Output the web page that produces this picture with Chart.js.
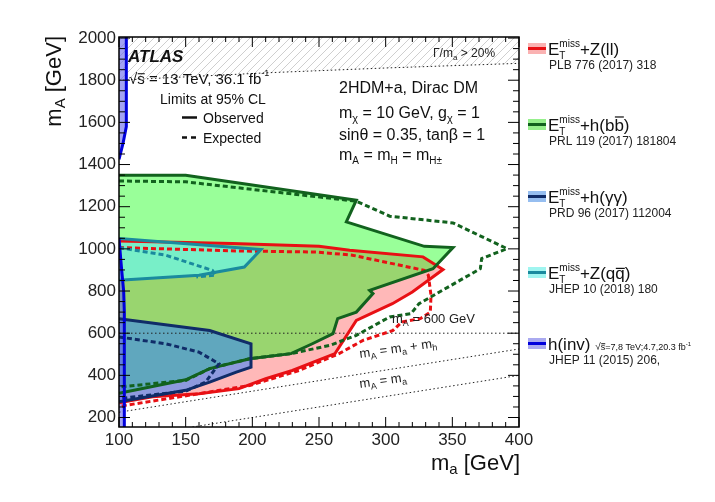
<!DOCTYPE html>
<html>
<head>
<meta charset="utf-8">
<script src="https://cdn.jsdelivr.net/npm/chart.js@4.4.1/dist/chart.umd.min.js"></script>
<style>
  html, body { margin: 0; padding: 0; background: #fff; }
  canvas { display: block; }
</style>
</head>
<body>
<canvas id="chart" width="715" height="502"></canvas>
<script>
// axis ticks
const xTicks = [100, 150, 200, 250, 300, 350, 400];
const yTicks = [200, 400, 600, 800, 1000, 1200, 1400, 1600, 1800, 2000];

// E_T^miss + Z(ll)
const zllObsMa = [100, 185, 250, 273, 328, 343, 320, 305, 278, 262, 230, 210, 190, 160, 125, 100];
const zllObsMA = [1037, 1025, 1012, 993, 962, 902, 795, 740, 661, 503, 423, 384, 337, 313, 298, 270];
const zllExpMa = [100, 190, 248, 275, 329, 332, 334, 333.5, 326, 312, 305.5, 283, 265, 235, 198, 160, 104, 100];
const zllExpMA = [1006, 990, 985, 970, 898, 875, 780, 700, 669, 653, 613, 566, 503, 423, 352, 313, 257, 250];

// E_T^miss + h(bb)
const hbbObsMa = [100, 150, 278, 270.5, 329, 350.5, 335.5, 288, 290.5, 278, 264, 260.5, 245, 229, 198, 168, 150, 100];
const hbbObsMA = [1349, 1349, 1231, 1128, 1012, 1006, 906, 803, 788, 700, 669, 598, 550, 503, 479, 432, 379, 315];
const hbbExpMa = [100, 150, 278, 303, 350.5, 391, 372, 371, 325, 319, 303, 278, 258, 229, 198, 168, 150, 100];
const hbbExpMA = [1322, 1318, 1226, 1155, 1123, 1001, 954, 906, 740, 693, 677, 590, 542, 503, 479, 432, 376, 345];

// E_T^miss + h(yy)
const hyyObsMa = [100, 168, 199, 199, 188, 168, 150, 100];
const hyyObsMA = [669, 613, 550, 439, 415, 368, 329, 275];
const hyyExpMa = [100, 135, 160, 175, 165, 150, 100];
const hyyExpMA = [582, 550, 510, 455, 368, 325, 290];

// E_T^miss + Z(qq)
const zqqObsMa = [100, 206.5, 194, 160, 100];
const zqqObsMA = [1049, 997, 914, 875, 851];
const zqqExpMa = [100, 135, 170, 172.5, 158];
const zqqExpMA = [1006, 970, 898, 875, 867];

// h(inv), Run 1
const hinvLowMa = [100, 104, 104, 103.5, 102, 100];
const hinvLowMA = [155, 155, 700, 800, 900, 1050];
const hinvHighMa = [100, 103, 105.5, 105.5, 100];
const hinvHighMA = [1425, 1500, 1580, 2005, 2005];

// width limit and kinematic lines
const widthMa = [100, 210, 300, 400];
const widthMA = [1800, 1835, 1858, 1880];
const mA600Ma = [100, 400];
const mA600MA = [600, 600];
const kinMa = [100, 400];
const kinMA = [225, 525];
const eqMa = [155, 400];
const eqMA = [155, 400];

const FONT = "'Liberation Sans', Arial, Helvetica, sans-serif";

function pts(xs, ys) {
  return xs.map((x, i) => ({ x: x, y: ys[i] }));
}
function area(xs, ys, color) {
  return { data: pts(xs, ys), showLine: true, fill: 'shape', backgroundColor: color,
           borderColor: 'rgba(0,0,0,0)', borderWidth: 0, pointRadius: 0 };
}
function curve(xs, ys, color, width, dash) {
  return { data: pts(xs, ys), showLine: true, fill: false, borderColor: color,
           borderWidth: width, borderDash: dash || [], pointRadius: 0 };
}

const canvas = document.getElementById('chart');
const ctx = canvas.getContext('2d');

// diagonal hatch for the width region
const hatchCanvas = document.createElement('canvas');
hatchCanvas.width = 8; hatchCanvas.height = 8;
const hc = hatchCanvas.getContext('2d');
hc.strokeStyle = '#cfcfcf';
hc.lineWidth = 1;
hc.beginPath();
hc.moveTo(0, 8); hc.lineTo(8, 0);
hc.moveTo(-2, 2); hc.lineTo(2, -2);
hc.moveTo(6, 10); hc.lineTo(10, 6);
hc.stroke();
const hatch = ctx.createPattern(hatchCanvas, 'repeat');

const RED = 'rgb(232,16,20)';
const GREEN = 'rgb(18,98,30)';
const NAVY = 'rgb(16,44,104)';
const TEAL = 'rgb(26,138,158)';
const BLUE = 'rgb(0,0,220)';
const DASH = [5, 3];

const layers = [
  { data: pts(widthMa, widthMA), showLine: true, fill: 'end', backgroundColor: hatch,
    borderColor: '#222', borderWidth: 1, borderDash: [1.5, 2.5], pointRadius: 0 },
  area(zllObsMa, zllObsMA, 'rgba(255,0,0,0.28)'),
  area(hbbObsMa, hbbObsMA, 'rgba(0,255,0,0.4)'),
  area(hyyObsMa, hyyObsMA, 'rgba(50,130,255,0.55)'),
  area(zqqObsMa, zqqObsMA, 'rgba(100,255,255,0.62)'),
  area(hinvLowMa, hinvLowMA, 'rgba(100,100,235,0.6)'),
  area(hinvHighMa, hinvHighMA, 'rgba(100,100,235,0.6)'),
  curve(mA600Ma, mA600MA, '#222', 1, [1.5, 2.5]),
  curve(kinMa, kinMA, '#222', 1, [1.5, 2.5]),
  curve(eqMa, eqMA, '#222', 1, [1.5, 2.5]),
  curve(zllExpMa, zllExpMA, RED, 3, DASH),
  curve(zllObsMa, zllObsMA, RED, 3),
  curve(hbbExpMa, hbbExpMA, GREEN, 3, DASH),
  curve(hbbObsMa, hbbObsMA, GREEN, 3),
  curve(hyyExpMa, hyyExpMA, NAVY, 3, DASH),
  curve(hyyObsMa, hyyObsMA, NAVY, 3),
  curve(zqqExpMa, zqqExpMA, TEAL, 3, DASH),
  curve(zqqObsMa, zqqObsMA, TEAL, 3),
  curve(hinvLowMa.slice(1), hinvLowMA.slice(1), BLUE, 3),
  curve(hinvHighMa.slice(0, 4), hinvHighMA.slice(0, 4), BLUE, 3)
];
layers.forEach((d, i) => { d.order = layers.length - i; });

// rich text: parts with size, vertical shift, overbar, stacked sub/superscripts
function fontOf(p) {
  return (p.i ? 'italic ' : '') + (p.b ? 'bold ' : '') + p.s + 'px ' + FONT;
}
function richWidth(c, parts) {
  let w = 0, hold = null;
  for (const p of parts) {
    c.font = fontOf(p);
    const pw = c.measureText(p.t).width;
    if (p.hold) { hold = pw; continue; }
    if (hold !== null) { w += Math.max(hold, pw); hold = null; } else w += pw;
  }
  return w;
}
function rich(c, x, y, parts, color) {
  let cx = x, hold = null;
  c.fillStyle = color || '#111';
  c.textAlign = 'left';
  c.textBaseline = 'alphabetic';
  for (const p of parts) {
    c.font = fontOf(p);
    const pw = c.measureText(p.t).width;
    const py = y + (p.dy || 0);
    c.fillText(p.t, cx, py);
    if (p.bar) c.fillRect(cx + 0.5, py - p.s * p.bar, pw - 0.5, Math.max(1, p.s / 14));
    if (p.hold) { hold = pw; continue; }
    if (hold !== null) { cx += Math.max(hold, pw); hold = null; } else cx += pw;
  }
  return cx;
}

function etmiss(extra) {
  return [{ t: 'E', s: 17 }, { t: 'miss', s: 10, dy: -8, hold: true }, { t: 'T', s: 10, dy: 4 }].concat(extra);
}

const legendRows = [
  { fill: 'rgb(250,178,178)', line: RED, ref: 'PLB 776 (2017) 318',
    text: etmiss([{ t: '+Z(ll)', s: 17 }]) },
  { fill: 'rgb(150,240,140)', line: GREEN, ref: 'PRL 119 (2017) 181804',
    text: etmiss([{ t: '+h(b', s: 17 }, { t: 'b', s: 17, bar: 0.86 }, { t: ')', s: 17 }]) },
  { fill: 'rgb(150,190,240)', line: NAVY, ref: 'PRD 96 (2017) 112004',
    text: etmiss([{ t: '+h(\u03b3\u03b3)', s: 17 }]) },
  { fill: 'rgb(160,245,240)', line: TEAL, ref: 'JHEP 10 (2018) 180',
    text: etmiss([{ t: '+Z(q', s: 17 }, { t: 'q', s: 17, bar: 0.66 }, { t: ')', s: 17 }]) },
  { fill: 'rgb(170,170,240)', line: BLUE, ref: 'JHEP 11 (2015) 206,',
    text: [{ t: 'h(inv) ', s: 17 }, { t: '\u221a', s: 10 }, { t: 's', s: 9, bar: 0.75 },
           { t: '=7,8 TeV;4.7,20.3 fb', s: 9 }, { t: '-1', s: 6, dy: -4 }] }
];
const legendBase = [55, 131, 203, 279, 350];

const decor = {
  id: 'decor',
  afterDraw(chart) {
    const c = chart.ctx;
    const a = chart.chartArea;
    const xs = chart.scales.x, ys = chart.scales.y;
    c.save();

    // frame
    c.strokeStyle = '#000';
    c.lineWidth = 1.5;
    c.setLineDash([]);
    c.strokeRect(a.left, a.top, a.right - a.left, a.bottom - a.top);

    // inward ticks on all sides
    c.lineWidth = 1;
    c.beginPath();
    for (let v = 100; v <= 400; v += 10) {
      const px = xs.getPixelForValue(v);
      const len = v % 50 === 0 ? 10 : 5;
      c.moveTo(px, a.bottom); c.lineTo(px, a.bottom - len);
      c.moveTo(px, a.top); c.lineTo(px, a.top + len);
    }
    for (let v = 200; v <= 2000; v += 50) {
      const py = ys.getPixelForValue(v);
      const len = v % 200 === 0 ? 11 : 6;
      c.moveTo(a.left, py); c.lineTo(a.left + len, py);
      c.moveTo(a.right, py); c.lineTo(a.right - len, py);
    }
    c.stroke();

    // labels inside the plot
    rich(c, 128, 62, [{ t: 'ATLAS', s: 17, b: 1, i: 1 }]);
    rich(c, 129, 84, [{ t: '\u221a', s: 15 }, { t: 's', s: 15, bar: 0.72 },
      { t: ' = 13 TeV, 36.1 fb', s: 15 }, { t: '-1', s: 9, dy: -8 }]);
    rich(c, 160, 104, [{ t: 'Limits at 95% CL', s: 14 }]);
    c.strokeStyle = '#111';
    c.lineWidth = 2.5;
    c.beginPath(); c.moveTo(182, 117.5); c.lineTo(197, 117.5); c.stroke();
    c.setLineDash([5, 4]);
    c.beginPath(); c.moveTo(182, 137.5); c.lineTo(197, 137.5); c.stroke();
    c.setLineDash([]);
    rich(c, 203, 123, [{ t: 'Observed', s: 14 }]);
    rich(c, 203, 143, [{ t: 'Expected', s: 14 }]);

    rich(c, 339, 93, [{ t: '2HDM+a, Dirac DM', s: 16 }]);
    rich(c, 339, 118, [{ t: 'm', s: 16 }, { t: '\u03c7', s: 11, dy: 4 }, { t: ' = 10 GeV, g', s: 16 },
      { t: '\u03c7', s: 11, dy: 4 }, { t: ' = 1', s: 16 }]);
    rich(c, 339, 140, [{ t: 'sin\u03b8 = 0.35, tan\u03b2 = 1', s: 16 }]);
    rich(c, 339, 160, [{ t: 'm', s: 16 }, { t: 'A', s: 10, dy: 4 }, { t: ' = m', s: 16 },
      { t: 'H', s: 10, dy: 4 }, { t: ' = m', s: 16 }, { t: 'H\u00b1', s: 10, dy: 4 }]);
    rich(c, 433, 57, [{ t: '\u0393/m', s: 12 }, { t: 'a', s: 8, dy: 3 }, { t: ' > 20%', s: 12 }], '#222');

    rich(c, 392, 323, [{ t: 'm', s: 13 }, { t: 'A', s: 9, dy: 3 }, { t: ' = 600 GeV', s: 13 }], '#222');
    c.save();
    c.translate(360, 358); c.rotate(-8 * Math.PI / 180);
    rich(c, 0, 0, [{ t: 'm', s: 13 }, { t: 'A', s: 9, dy: 3 }, { t: ' = m', s: 13 }, { t: 'a', s: 9, dy: 3 },
      { t: ' + m', s: 13 }, { t: 'h', s: 9, dy: 3 }], '#222');
    c.restore();
    c.save();
    c.translate(360, 388); c.rotate(-8 * Math.PI / 180);
    rich(c, 0, 0, [{ t: 'm', s: 13 }, { t: 'A', s: 9, dy: 3 }, { t: ' = m', s: 13 }, { t: 'a', s: 9, dy: 3 }], '#222');
    c.restore();

    // axis titles
    const yTitle = [{ t: 'm', s: 22 }, { t: 'A', s: 15, dy: 4 }, { t: ' [GeV]', s: 22 }];
    c.save();
    c.translate(61, 36); c.rotate(-Math.PI / 2);
    rich(c, -richWidth(c, yTitle), 0, yTitle);
    c.restore();
    const xTitle = [{ t: 'm', s: 22 }, { t: 'a', s: 15, dy: 4 }, { t: ' [GeV]', s: 22 }];
    rich(c, 520 - richWidth(c, xTitle), 470, xTitle);

    // legend on the right
    legendRows.forEach((row, i) => {
      const b = legendBase[i];
      c.fillStyle = row.fill;
      c.fillRect(528, b - 12, 18, 11);
      c.fillStyle = row.line;
      c.fillRect(528, b - 8, 18, 3);
      rich(c, 548, b, row.text);
      rich(c, 549, b + 14, [{ t: row.ref, s: 12 }], '#222');
    });

    c.restore();
  }
};

new Chart(ctx, {
  type: 'scatter',
  data: { datasets: layers },
  options: {
    responsive: false,
    animation: false,
    layout: { padding: { top: 37, right: 196, left: 0, bottom: 0 } },
    plugins: { legend: { display: false }, tooltip: { enabled: false } },
    scales: {
      x: {
        type: 'linear', min: 100, max: 400,
        afterBuildTicks: s => { s.ticks = xTicks.map(v => ({ value: v })); },
        afterFit: s => { s.height = 75; },
        grid: { display: false, drawTicks: false },
        border: { display: false },
        ticks: { color: '#222', padding: 3, font: { family: FONT, size: 17 }, maxRotation: 0,
                 callback: v => String(v) }
      },
      y: {
        type: 'linear', min: 155, max: 2005,
        afterBuildTicks: s => { s.ticks = yTicks.map(v => ({ value: v })); },
        afterFit: s => { s.width = 119; },
        grid: { display: false, drawTicks: false },
        border: { display: false },
        ticks: { color: '#222', padding: 3, font: { family: FONT, size: 17 },
                 callback: v => String(v) }
      }
    }
  },
  plugins: [decor]
});
</script>
</body>
</html>
